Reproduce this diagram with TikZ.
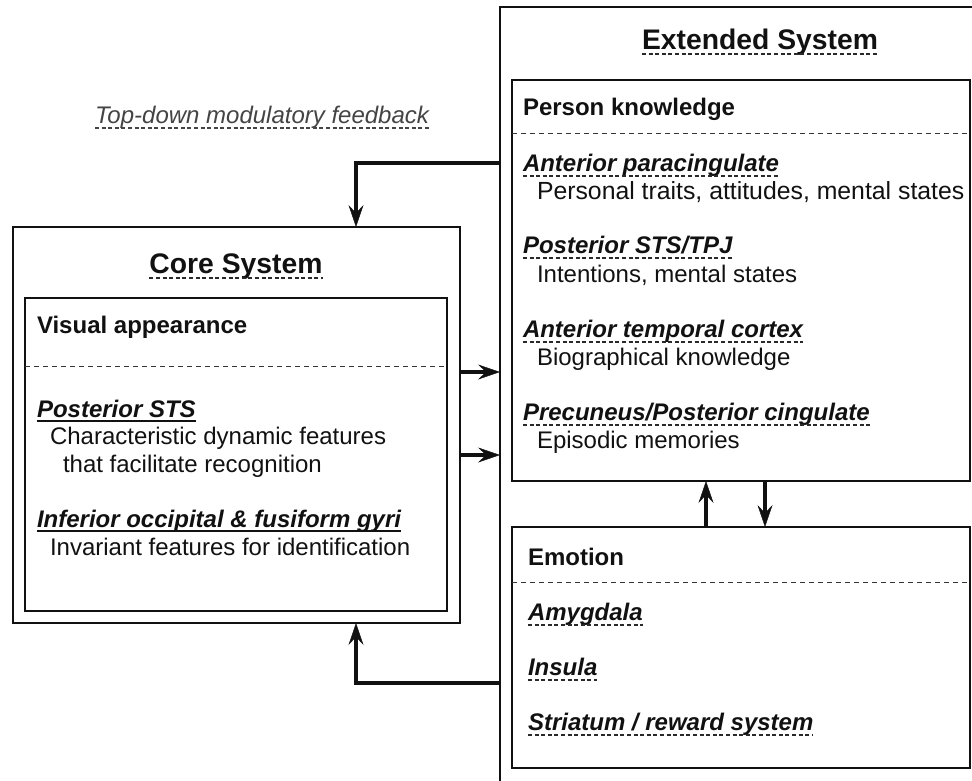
\documentclass[tikz,border=0pt]{standalone}
\usepackage{fontspec}
\setmainfont{Liberation Sans}
\usetikzlibrary{arrows.meta}
\definecolor{ink}{HTML}{111111}
\definecolor{greyink}{HTML}{444444}
\tikzset{
  boxline/.style={draw=ink, line width=2.8pt, inner sep=0pt, outer sep=0pt},
  sepline/.style={draw=ink!85, line width=1pt, dash pattern=on 5pt off 4pt},
  arr/.style={draw=ink, line width=3.8pt, -{Stealth[length=22pt,width=15pt,inset=8pt,line width=0.4pt]}},
  txt/.style={inner sep=0pt, outer sep=0pt, anchor=base west, text=ink, font=\fontsize{24}{28}\selectfont},
  widetxt/.style={txt, font=\fontsize{24.8}{28}\selectfont},
  head/.style={txt, font=\fontsize{24}{28}\selectfont\bfseries\itshape},
  lbl/.style={txt, font=\fontsize{24}{28}\selectfont\bfseries},
  ttl/.style={inner sep=0pt, outer sep=0pt, anchor=base, text=ink, font=\fontsize{28.3}{32}\selectfont\bfseries},
  dul/.style={draw=ink!90, line width=1.6pt, dash pattern=on 4pt off 2.6pt},
  sul/.style={draw=ink, line width=2pt}
}
\begin{document}
\begin{tikzpicture}[x=1pt,y=-1pt]
\useasboundingbox (0,0) rectangle (972,780);
\clip (0,0) rectangle (972,780);
% boxes
\node[boxline, minimum width=447pt, minimum height=396pt, anchor=north west] (core) at (13,227) {};
\node[boxline, minimum width=422pt, minimum height=313pt, anchor=north west] (corein) at (25,298) {};
\node[boxline, minimum width=560pt, minimum height=820pt, anchor=north west] (ext) at (500,7) {};
\node[boxline, minimum width=458pt, minimum height=401pt, anchor=north west] (pk) at (512,80) {};
\node[boxline, minimum width=458pt, minimum height=241pt, anchor=north west] (emo) at (512,527) {};
% separators
\draw[sepline] (corein.west |- 0,366) -- (corein.east |- 0,366);
\draw[sepline] (pk.west |- 0,133) -- (pk.east |- 0,133);
\draw[sepline] (emo.west |- 0,582) -- (emo.east |- 0,582);
% top-down label
\node[txt, text=greyink, font=\fontsize{24}{28}\selectfont\itshape] (td) at (95,123) {Top-down modulatory feedback};
\draw[dul, draw=greyink] ([yshift=-5pt]td.base west) -- ([yshift=-5pt]td.base east);
% titles
\node[ttl] (extt) at (760,49) {Extended System};
\draw[dul] ([yshift=-5pt]extt.base west) -- ([yshift=-5pt]extt.base east);
\node[ttl] (coret) at (236,273) {Core System};
\draw[dul] ([yshift=-5pt]coret.base west) -- ([yshift=-5pt]coret.base east);
% person knowledge
\node[lbl] (pkl) at (523,115) {Person knowledge};
\node[head] (h1) at (523,171) {Anterior paracingulate};
\node[widetxt] (d1) at (537,199) {Personal traits, attitudes, mental states};
\node[head] (h2) at (523,253) {Posterior STS/TPJ};
\node[txt] (d2) at (537,282) {Intentions, mental states};
\node[head] (h3) at (523,337) {Anterior temporal cortex};
\node[txt] (d3) at (537,365) {Biographical knowledge};
\node[head] (h4) at (523,420) {Precuneus/Posterior cingulate};
\node[txt] (d4) at (537,448) {Episodic memories};
\foreach \n in {h1,h2,h3,h4}
  \draw[dul] ([yshift=-5pt]\n.base west) -- ([yshift=-5pt]\n.base east);
% emotion
\node[lbl] (eml) at (528,565) {Emotion};
\node[head] (e1) at (528,620) {Amygdala};
\node[head] (e2) at (528,675) {Insula};
\node[head] (e3) at (528,730) {Striatum / reward system};
\foreach \n in {e1,e2,e3}
  \draw[dul] ([yshift=-5pt]\n.base west) -- ([yshift=-5pt]\n.base east);
% core
\node[lbl] (val) at (37,333) {Visual appearance};
\node[head] (c1) at (37,417) {Posterior STS};
\node[txt] (cd1) at (50,444) {Characteristic dynamic features};
\node[txt] (cd1b) at (63,472) {that facilitate recognition};
\node[head] (c2) at (37,527) {Inferior occipital \& fusiform gyri};
\node[txt] (cd2) at (50,555) {Invariant features for identification};
\foreach \n in {c1,c2}
  \draw[sul] ([yshift=-4pt]\n.base west) -- ([yshift=-4pt]\n.base east);
% connectors
\draw[arr] (ext.west |- 0,163) -| (core.north -| 356,0);
\draw[arr] (ext.west |- 0,683) -| (core.south -| 356,0);
\draw[arr] (core.east |- 0,372) -- (ext.west |- 0,372);
\draw[arr] (core.east |- 0,455) -- (ext.west |- 0,455);
\draw[arr] (emo.north -| 706,0) -- (pk.south -| 706,0);
\draw[arr] (pk.south -| 765,0) -- (emo.north -| 765,0);
\end{tikzpicture}
\end{document}
